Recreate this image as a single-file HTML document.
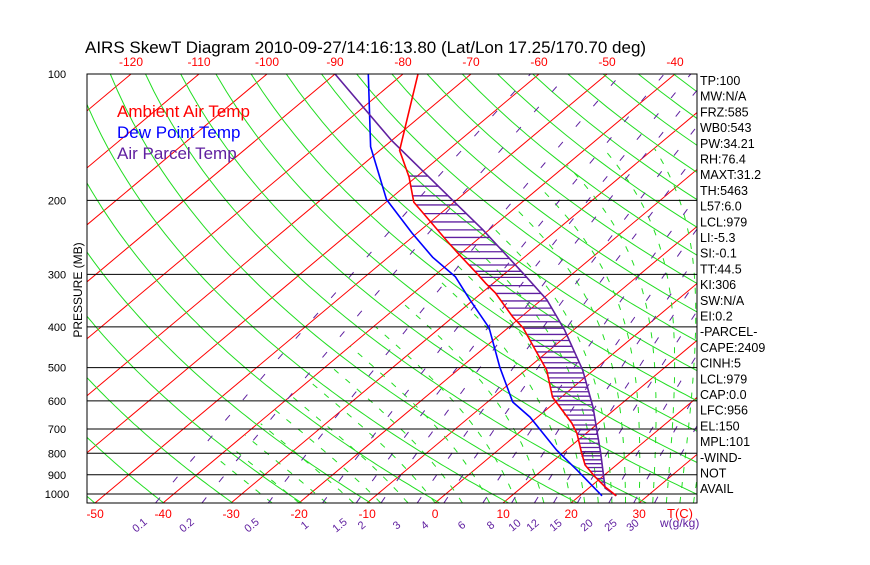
<!DOCTYPE html>
<html><head><meta charset="utf-8"><style>
body{margin:0;background:#fff;width:870px;height:560px;overflow:hidden;font-family:"Liberation Sans",sans-serif}
svg text{font-family:"Liberation Sans",sans-serif}
</style></head><body>
<svg id="chart" width="870" height="560" xmlns="http://www.w3.org/2000/svg">
<defs><clipPath id="plotclip"><rect x="87" y="74" width="610" height="429"/></clipPath></defs>
<text x="85" y="53" font-size="17" fill="#000">AIRS SkewT Diagram 2010-09-27/14:16:13.80 (Lat/Lon 17.25/170.70 deg)</text>
<g id="bg" clip-path="url(#plotclip)"></g>
<g id="grid"></g>
<g id="data" clip-path="url(#plotclip)"></g>
<g id="labels"></g>
<text transform="translate(82,290) rotate(-90)" text-anchor="middle" font-size="12" fill="#000">PRESSURE (MB)</text>
<text x="117" y="117" font-size="17" fill="#ff0000">Ambient Air Temp</text>
<text x="117" y="138" font-size="17" fill="#0000ff">Dew Point Temp</text>
<text x="117" y="159" font-size="17" fill="#6020a0">Air Parcel Temp</text>
<rect x="87" y="74" width="610" height="429" fill="none" stroke="#000" stroke-width="1"/>
</svg>
<script>
// ---- data ----
const ambientP = [100,152,176,202,222,249,267,298,315,332,379,402,454,507,588,678,716,799,853,911,962,1010];
const ambientT = [-77.8,-67.1,-61.0,-55.9,-50.7,-44.4,-40.5,-34.2,-31.1,-28.0,-21.2,-17.8,-12.1,-6.9,-1.3,6.1,8.6,12.8,15.4,19.0,22.2,25.4];
const dewP = [100,149,199,239,273,304,345,402,499,604,656,786,877,1010];
const dewT = [-85.1,-72.0,-60.4,-50.8,-43.5,-36.7,-30.5,-22.8,-14.3,-6.3,-1.1,8.6,15.1,23.3];
const parcelP = [100,144,202,235,298,345,407,507,621,799,968,1010];
const parcelT = [-90.0,-70.0,-49.9,-40.9,-27.4,-19.2,-11.3,-1.6,6.4,15.6,22.4,25.4];
const pressureTicks = [100,200,300,400,500,600,700,800,900,1000];
const topTempTicks = [-120,-110,-100,-90,-80,-70,-60,-50,-40];
const bottomTempTicks = [-50,-40,-30,-20,-10,0,10,20,30];
const mixRatios = [0.1,0.2,0.5,1,1.5,2,3,4,6,8,10,12,15,20,25,30];
const mixLabelX = [142,189,254,307,342,364,399,427,464,493,517,535,558,589,613,635];
const statsText = ["TP:100","MW:N/A","FRZ:585","WB0:543","PW:34.21","RH:76.4","MAXT:31.2","TH:5463","L57:6.0","LCL:979","LI:-5.3","SI:-0.1","TT:44.5","KI:306","SW:N/A","EI:0.2","-PARCEL-","CAPE:2409","CINH:5","LCL:979","CAP:0.0","LFC:956","EL:150","MPL:101","-WIND-","NOT","AVAIL"];

const NS="http://www.w3.org/2000/svg";
function yOf(p){return 74+420*Math.log10(p/100);}
function xOf(T,p){return 435+6.8*T+1.1935*(503-yOf(p));}
function mk(tag,attrs,parent){const e=document.createElementNS(NS,tag);for(const k in attrs)e.setAttribute(k,attrs[k]);parent.appendChild(e);return e;}
const bg=document.getElementById('bg'),grid=document.getElementById('grid'),dg=document.getElementById('data'),lg=document.getElementById('labels');
function pathFrom(pts){return pts.map((q,i)=>(i?'L':'M')+q[0].toFixed(1)+' '+q[1].toFixed(1)).join(' ');}

// isotherms
for(let T=-180;T<=50;T+=10){
  const e=mk('line',{x1:xOf(T,1050),y1:yOf(1050),x2:xOf(T,100),y2:yOf(100),stroke:'#ff0000','stroke-width':1},bg);
  
  
}
// dry adiabats
for(let th=200;th<=560;th+=10){
  const pts=[];for(let p=1050;p>=95;p-=10){pts.push([xOf(th*Math.pow(p/1000,0.286)-273.15,p),yOf(p)]);}
  const e=mk('path',{d:pathFrom(pts),stroke:'#22dd22',fill:'none','stroke-width':1},bg);
  
  
}
// moist adiabats
function es(T){return 6.112*Math.exp(17.67*T/(T+243.5));}
const moistStarts=[];for(let t=-24;t<20;t+=4)moistStarts.push(t);for(let t=20;t<=40;t+=2)moistStarts.push(t);
moistStarts.forEach(T0=>{
  let T=T0+273.15;const pts=[];
  for(let p=1050;p>=150;p-=5){
    if(T-273.15<-40)break;
    pts.push([xOf(T-273.15,p),yOf(p)]);
    const rs=0.622*es(T-273.15)/(p-es(T-273.15));
    const dTdp=(287*T+2.5e6*rs)/(p*(1004+2.5e6*2.5e6*rs*0.622/(287*T*T)));
    T-=dTdp*5;
  }
  if(pts.length<2)return;
  const e=mk('path',{d:pathFrom(pts),stroke:'#22dd22',fill:'none','stroke-width':1,'stroke-dasharray':'6 9'},bg);
  
  
});
// mixing ratio lines
mixRatios.forEach(w=>{
  const pts=[];for(let p=1050;p>=100;p-=10){const e=w*p/(622+w);const l=Math.log(e/6.112);const td=243.5*l/(17.67-l);if(td<-62)break;pts.push([xOf(td,p),yOf(p)]);}
  if(pts.length<2)return;
  const e=mk('path',{d:pathFrom(pts),stroke:'#6020a0',fill:'none','stroke-width':1,'stroke-dasharray':'7 20'},bg);
  
  
});
// pressure lines & labels
pressureTicks.forEach(p=>{
  const y=yOf(p);
  const l=mk('line',{x1:87,y1:y,x2:697,y2:y,stroke:'#000','stroke-width':1},grid);
  
  
  const t=mk('text',{x:57,y:y+4,'text-anchor':'middle','font-size':11,fill:'#000'},lg);t.textContent=p;
  
  
});
topTempTicks.forEach(T=>{
  const t=mk('text',{x:xOf(T,100),y:66,'text-anchor':'middle','font-size':12,fill:'#ff0000'},lg);t.textContent=T;
  
  
});
bottomTempTicks.forEach(T=>{
  const t=mk('text',{x:xOf(T,1050),y:518,'text-anchor':'middle','font-size':12,fill:'#ff0000'},lg);t.textContent=T;
  
  
});
{const t=mk('text',{x:680,y:518,'text-anchor':'middle','font-size':13,fill:'#ff0000'},lg);t.textContent='T(C)';

}
mixRatios.forEach((w,i)=>{
  const x=mixLabelX[i];
  const t=mk('text',{transform:'translate('+x+',528) rotate(-40)','text-anchor':'middle','font-size':11,fill:'#6020a0'},lg);t.textContent=w;
  
  
});
{const t=mk('text',{x:660,y:527,'font-size':12,fill:'#6020a0'},lg);t.textContent='w(g/kg)';

}
statsText.forEach((s,i)=>{
  const t=mk('text',{x:700,y:85+i*15.7,'font-size':12.5,fill:'#000'},lg);t.textContent=s;
  
  
});

// interpolation in log-p
function interp(P,T,p){
  if(p<=P[0])return T[0];if(p>=P[P.length-1])return T[T.length-1];
  for(let i=1;i<P.length;i++){if(p<=P[i]){const f=(Math.log(p)-Math.log(P[i-1]))/(Math.log(P[i])-Math.log(P[i-1]));return T[i-1]+f*(T[i]-T[i-1]);}}
}
// hatching
const hatchTop=Math.max(ambientP[0],parcelP[0]);
for(let p=175;p<=parcelP[parcelP.length-1];p+=(p<300?10:(p<600?14:18))){
  if(p<hatchTop)continue;
  const ta=interp(ambientP,ambientT,p),tp=interp(parcelP,parcelT,p);
  if(tp>ta){
    const e=mk('line',{x1:xOf(ta,p),y1:yOf(p),x2:xOf(tp,p),y2:yOf(p),stroke:'#6020a0','stroke-width':1.3},dg);
    
    
  }
}
function series(P,T,color,name){
  const pts=P.map((p,i)=>[xOf(T[i],p),yOf(p)]);
  const e=mk('path',{d:pathFrom(pts),stroke:color,fill:'none','stroke-width':1.6},dg);
  
  
}
series(dewP,dewT,'#0000ff','dewpoint-line');
series(parcelP,parcelT,'#6020a0','parcel-line');
series(ambientP,ambientT,'#ff0000','ambient-temp-line');
</script>
</body></html>
